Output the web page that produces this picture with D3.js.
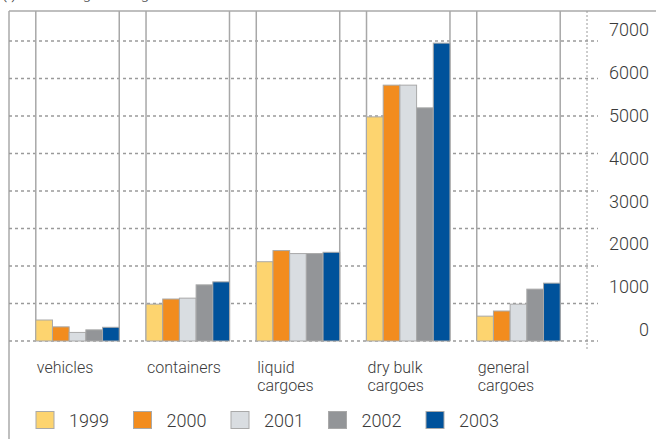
<!DOCTYPE html>
<html>
<head>
<meta charset="utf-8">
<script src="https://cdn.jsdelivr.net/npm/d3@7"></script>
<style>
  html, body { margin: 0; padding: 0; background: #fff; }
  svg { display: block; }
  text { font-family: Roboto, "Liberation Sans", sans-serif; font-weight: 300; fill: #3a3a3a; }
</style>
</head>
<body>
<svg id="chart" width="656" height="439"></svg>
<script>
// ---- data ----
const categories = [["vehicles"], ["containers"], ["liquid", "cargoes"], ["dry bulk", "cargoes"], ["general", "cargoes"]];
const years = ["1999", "2000", "2001", "2002", "2003"];
const v1999 = [490, 860, 1850, 5230, 580];
const v2000 = [330, 980, 2110, 5970, 700];
const v2001 = [200, 1000, 2040, 5970, 860];
const v2002 = [260, 1310, 2040, 5440, 1210];
const v2003 = [320, 1380, 2070, 6950, 1350];
const tickValues = [0, 1000, 2000, 3000, 4000, 5000, 6000, 7000];
const colors = ["#FDD46F", "#F28C1E", "#D9DDE1", "#939598", "#00529B"];

(function () {
const series = [v1999, v2000, v2001, v2002, v2003];
const svg = d3.select("#chart");

const mLeft = 9, mRight = 587, mTop = 11, mBottom = 341, mTopVal = 41;
const catKeys = categories.map(c => c.join(" "));

const x0 = d3.scaleBand().domain(catKeys).range([mLeft, mRight]).paddingInner(0.243).paddingOuter(0.243);
const x1 = d3.scaleBand().domain(years).range([0, x0.bandwidth()]).padding(0);
const y = d3.scaleLinear().domain([0, 7000]).range([mBottom, mTopVal]);
const grid = d3.scaleLinear().domain([0, 8]).range([mBottom, mTopVal]);

// cropped heading at the very top (only descenders visible, as in the reference)
svg.append("text").attr("x", 2).attr("y", -1).style("font-size", "15px").text("(t)");
svg.append("text").attr("x", 62).attr("y", -1).style("font-size", "15px").text("cargo tonnage");

// frame lines
svg.append("line").attr("x1", mLeft).attr("x2", 656).attr("y1", mTop).attr("y2", mTop)
  .attr("stroke", "#aaa").attr("stroke-width", 1.5);
svg.append("line").attr("x1", mLeft).attr("x2", mLeft).attr("y1", mTop).attr("y2", 439)
  .attr("stroke", "#aaa").attr("stroke-width", 1.5);

// dashed gridlines
svg.append("g").selectAll("line").data(d3.range(9)).join("line")
  .attr("x1", mLeft).attr("x2", 598)
  .attr("y1", d => grid(d)).attr("y2", d => grid(d))
  .attr("stroke", "#9a9a9a").attr("stroke-width", 1.3).attr("stroke-dasharray", "3,3");

// dotted right axis line
svg.append("line").attr("x1", mRight).attr("x2", mRight).attr("y1", mTop).attr("y2", 350)
  .attr("stroke", "#9a9a9a").attr("stroke-width", 1).attr("stroke-dasharray", "2,2");

// group frames (vertical lines)
const groups = svg.append("g").selectAll("g").data(catKeys).join("g")
  .attr("transform", d => `translate(${x0(d)},0)`);
groups.each(function () {
  const g = d3.select(this);
  [0, x0.bandwidth()].forEach(xx => {
    g.append("line").attr("x1", xx).attr("x2", xx).attr("y1", mTop).attr("y2", mBottom)
      .attr("stroke", "#a8a8a8").attr("stroke-width", 1.5);
  });
});

// bars
groups.selectAll("rect").data((d, i) => years.map((yr, j) => ({ yr, j, v: series[j][i] })))
  .join("rect")
  .attr("x", d => x1(d.yr))
  .attr("width", x1.bandwidth())
  .attr("y", d => y(d.v))
  .attr("height", d => y(0) - y(d.v))
  .attr("fill", d => colors[d.j])
  .attr("stroke", "#a9a9a9").attr("stroke-width", 1);

// right axis labels
const axis = d3.axisRight(y).tickValues(tickValues).tickSize(0).tickFormat(d3.format("d"));
const ag = svg.append("g").attr("transform", `translate(649,0)`).call(axis);
ag.select(".domain").remove();
ag.selectAll("text").attr("x", 0).attr("dy", "-0.3em").attr("text-anchor", "end")
  .style("font-size", "18px").style("font-family", "Roboto, 'Liberation Sans', sans-serif")
  .style("font-weight", 300).attr("fill", "#3a3a3a");

// category labels
svg.append("g").selectAll("text").data(categories).join("text")
  .attr("x", (d, i) => x0(catKeys[i]) + 1)
  .attr("y", 373)
  .style("font-size", "16px")
  .each(function (d) {
    const t = d3.select(this);
    d.forEach((line, k) => t.append("tspan").attr("x", t.attr("x")).attr("dy", k === 0 ? 0 : 18).text(line));
  });

// legend
const lg = svg.append("g").selectAll("g").data(years).join("g")
  .attr("transform", (d, i) => `translate(${36 + i * 97.5},411.5)`);
lg.append("rect").attr("width", 18).attr("height", 17)
  .attr("fill", (d, i) => colors[i]).attr("stroke", "#a9a9a9").attr("stroke-width", 1);
lg.append("text").attr("x", 33).attr("y", 15).style("font-size", "18px").text(d => d);
})();
</script>
</body>
</html>
